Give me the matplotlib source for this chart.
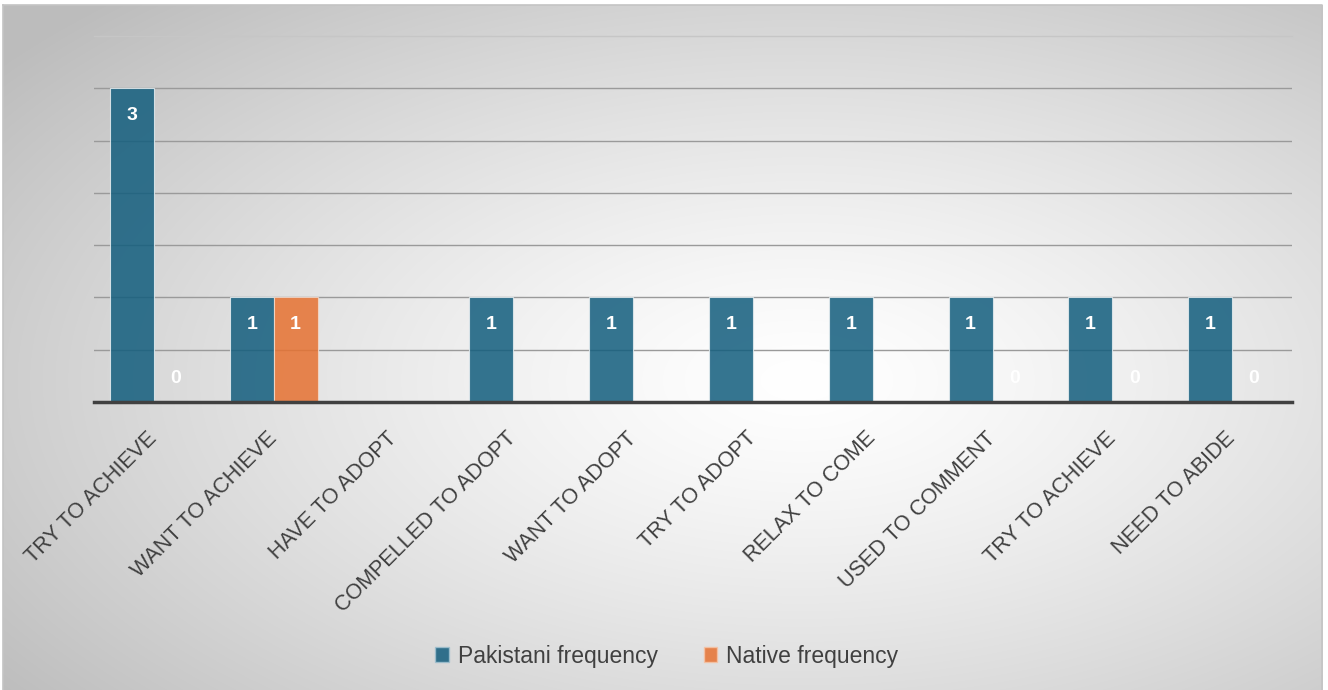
import numpy as np
import matplotlib.pyplot as plt
from matplotlib.patches import Patch

categories = ["TRY TO ACHIEVE", "WANT TO ACHIEVE", "HAVE TO ADOPT", "COMPELLED TO ADOPT",
              "WANT TO ADOPT", "TRY TO ADOPT", "RELAX TO COME", "USED TO COMMENT",
              "TRY TO ACHIEVE", "NEED TO ABIDE"]
pakistani = [3, 1, np.nan, 1, 1, 1, 1, 1, 1, 1]
native = [0, 1, np.nan, np.nan, np.nan, np.nan, np.nan, 0, 0, 0]

W, H = 1328, 690
plt.rcParams['font.family'] = ['Liberation Sans', 'DejaVu Sans']
fig = plt.figure(figsize=(W / 100, H / 100), dpi=100)

# ---- radial gradient background ----
bg = fig.add_axes([0, 0, 1, 1])
bg.set_axis_off()
yy, xx = np.mgrid[0:H, 0:W]
r = np.hypot((xx - 800) / W, (yy - 380) / H)
r = r / r.max()
shade = 1.0 - 0.26 * np.clip(r * 1.08, 0, 1) ** 1.3
img = np.dstack([shade] * 3)
img[:, :3] = 1.0
img[:5, :] = 1.0
img[:, 1323:] = 1.0
bg.imshow(img, extent=[0, W, H, 0], aspect='auto', interpolation='bilinear')
bg.plot([3, 1322, 1322], [5, 5, H], color='#c4c4c4', lw=1.2)
bg.plot([3, 3], [5, H], color='#c4c4c4', lw=1.2)
bg.set_xlim(0, W)
bg.set_ylim(H, 0)

# ---- chart ----
ax = fig.add_axes([94 / W, (H - 402) / H, (1292 - 94) / W, (402 - 36) / H])
ax.patch.set_alpha(0)
x = np.arange(len(categories))
w = 0.367
blue = '#125D7D'
orange = '#E67131'
ax.bar(x - w / 2, pakistani, w, color=blue, alpha=0.85, edgecolor='#e4ecef', linewidth=0.8, zorder=3)
ax.bar(x + w / 2, native, w, color=orange, alpha=0.85, edgecolor='#f4d8c8', linewidth=0.8, zorder=3)

for xs, vals in [(x - w / 2, pakistani), (x + w / 2, native)]:
    for xi, v in zip(xs, vals):
        if np.isnan(v):
            continue
        off = -19.5 if v > 0 else 17
        ax.annotate(f"{int(v)}", (xi, v), xytext=(0, off), textcoords='offset points',
                    ha='center', va='center', color='white', fontsize=14, fontweight='bold', zorder=4)

ax.set_xlim(-0.5, len(categories) - 0.5)
ax.set_ylim(0, 3.5)
ax.set_yticks(np.arange(0.5, 3.01, 0.5))
ax.yaxis.grid(True, color='#9a9a9a', linewidth=1.0, zorder=0)
ax.axhline(3.5, color='#c6c6c6', linewidth=1.0, zorder=0, clip_on=False)
ax.tick_params(axis='y', left=False, labelleft=False)
ax.tick_params(axis='x', length=0, pad=24)
for s in ['top', 'right', 'left']:
    ax.spines[s].set_visible(False)
ax.spines['bottom'].set_color('#404040')
ax.spines['bottom'].set_linewidth(2.5)
ax.spines['bottom'].set_zorder(5)
ax.set_xticks(x)
ax.set_xticklabels(categories, rotation=45, ha='right', va='center', rotation_mode='anchor',
                   fontsize=15.5, color='#404040')

handles = [Patch(facecolor=blue, alpha=0.85, edgecolor='#9fc0cf', label='Pakistani frequency'),
           Patch(facecolor=orange, alpha=0.85, edgecolor='#f5c3a5', label='Native frequency')]
fig.legend(handles=handles, loc='center', bbox_to_anchor=(0.502, (H - 656) / H), ncol=2,
           frameon=False, fontsize=16.5, labelcolor='#404040', handlelength=0.6, handleheight=0.6,
           handletextpad=0.4, columnspacing=2.0)

fig.savefig('out.png', dpi=100)
